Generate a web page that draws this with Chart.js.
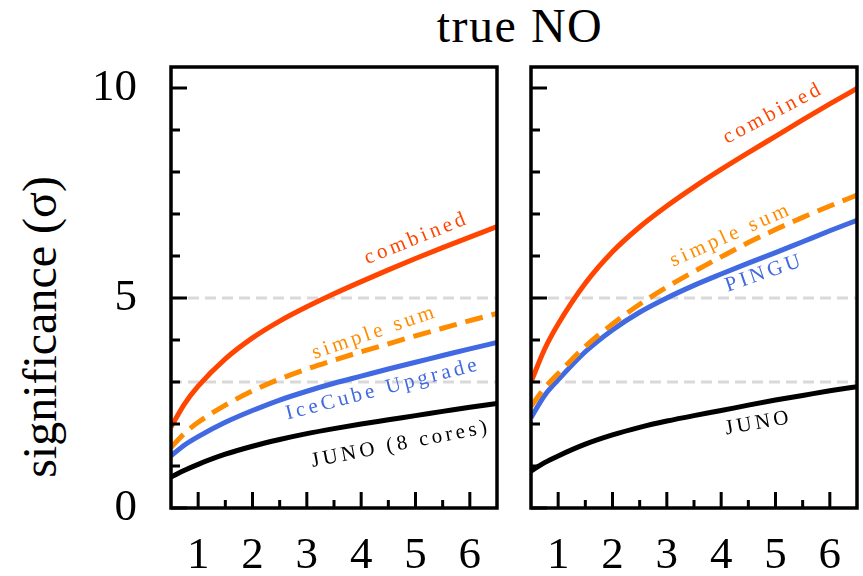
<!DOCTYPE html>
<html>
<head>
<meta charset="utf-8">
<script src="https://cdn.jsdelivr.net/npm/chart.js@4.4.1/dist/chart.umd.min.js"></script>
<style>
  html, body { margin: 0; padding: 0; background: #fff; }
  #wrap { position: relative; width: 863px; height: 576px; overflow: hidden; }
  #wrap canvas { position: absolute; left: 0; top: 0; }
  #title {
    position: absolute; left: 320px; width: 400px; top: 2px;
    text-align: center; font-family: 'Liberation Serif', serif;
    font-size: 48px; line-height: 48px; letter-spacing: 1.5px; color: #000;
  }
  #ylabel {
    position: absolute; left: 40px; top: 327px; white-space: nowrap;
    transform: translate(-50%, -50%) rotate(-90deg);
    font-family: 'Liberation Serif', serif; font-size: 48px; line-height: 48px; color: #000;
  }
</style>
</head>
<body>
<div id="wrap">
  <div id="title">true NO</div>
  <div id="ylabel">significance (σ)</div>
  <canvas id="leftPanel" width="863" height="576" style="width:863px;height:576px"></canvas>
  <canvas id="rightPanel" width="863" height="576" style="width:863px;height:576px"></canvas>
</div>
<script>
// years of data taking
const years = [0.5, 0.75, 1, 1.5, 2, 2.5, 3, 3.5, 4, 4.5, 5, 5.5, 6, 6.5];

// left panel: IceCube Upgrade + JUNO (8 cores)
const upgCombined = [1.93, 2.48, 2.9, 3.55, 4.05, 4.45, 4.79, 5.1, 5.39, 5.67, 5.94, 6.2, 6.45, 6.7];
const upgSimpleSum = [1.44, 1.78, 2.04, 2.45, 2.79, 3.07, 3.31, 3.52, 3.72, 3.91, 4.1, 4.28, 4.46, 4.63];
const upgAlone = [1.24, 1.5, 1.7, 2.04, 2.32, 2.57, 2.78, 2.97, 3.14, 3.31, 3.47, 3.63, 3.79, 3.94];
const juno8 = [0.74, 0.9, 1.04, 1.28, 1.47, 1.63, 1.77, 1.89, 2.0, 2.1, 2.2, 2.3, 2.4, 2.49];

// right panel: PINGU + JUNO
const pinguCombined = [3.0, 3.78, 4.38, 5.35, 6.1, 6.69, 7.19, 7.64, 8.06, 8.46, 8.85, 9.24, 9.62, 9.99];
const pinguSimpleSum = [2.42, 2.86, 3.2, 3.85, 4.38, 4.85, 5.26, 5.63, 5.98, 6.32, 6.63, 6.92, 7.19, 7.45];
const pinguAlone = [2.15, 2.68, 3.05, 3.72, 4.24, 4.66, 5.0, 5.3, 5.57, 5.83, 6.08, 6.34, 6.6, 6.85];
const junoPingu = [0.88, 1.08, 1.24, 1.52, 1.74, 1.92, 2.07, 2.2, 2.32, 2.45, 2.57, 2.68, 2.79, 2.89];

// axes
const xTickLabels = [1, 2, 3, 4, 5, 6];
const xMinorTicks = [1.5, 2.5, 3.5, 4.5, 5.5];
const yTickLabels = [0, 5, 10];
const yMinorTicks = [1, 2, 3, 4, 6, 7, 8, 9];
const refLevels = [3, 5];

const SERIF = "'Liberation Serif', 'DejaVu Serif', serif";
const RED = '#ff4500', ORANGE = '#ff8c00', BLUE = '#4169e1', BLACK = '#000000';

function toPoints(vals) {
  return years.map((x, i) => ({ x: x, y: vals[i] }));
}

function makeDatasets(comb, sum, alone, juno) {
  const base = { pointRadius: 0, borderWidth: 5, cubicInterpolationMode: 'monotone', fill: false };
  return [
    Object.assign({}, base, { label: 'combined', data: toPoints(comb), borderColor: RED }),
    Object.assign({}, base, { label: 'simple sum', data: toPoints(sum), borderColor: ORANGE, borderDash: [18, 9], borderCapStyle: 'butt' }),
    Object.assign({}, base, { label: 'detector', data: toPoints(alone), borderColor: BLUE }),
    Object.assign({}, base, { label: 'JUNO', data: toPoints(juno), borderColor: BLACK })
  ];
}

// frame, inward ticks, dashed reference lines and curve labels
const framePlugin = {
  id: 'frame',
  beforeDatasetsDraw(chart) {
    const { ctx, chartArea: a, scales } = chart;
    ctx.save();
    ctx.strokeStyle = '#d9d9d9';
    ctx.lineWidth = 3;
    ctx.setLineDash([11, 6]);
    refLevels.forEach(v => {
      const y = scales.y.getPixelForValue(v);
      ctx.beginPath();
      ctx.moveTo(a.left, y);
      ctx.lineTo(a.right, y);
      ctx.stroke();
    });
    ctx.restore();
  },
  afterDatasetsDraw(chart, args, opts) {
    const { ctx, chartArea: a, scales } = chart;
    ctx.save();
    ctx.strokeStyle = '#000';
    ctx.lineWidth = 3;
    ctx.setLineDash([]);
    ctx.beginPath();
    yTickLabels.forEach(v => {
      const y = scales.y.getPixelForValue(v);
      ctx.moveTo(a.left, y); ctx.lineTo(a.left + 16, y);
    });
    yMinorTicks.forEach(v => {
      const y = scales.y.getPixelForValue(v);
      ctx.moveTo(a.left, y); ctx.lineTo(a.left + 9, y);
    });
    xTickLabels.forEach(v => {
      const x = scales.x.getPixelForValue(v);
      ctx.moveTo(x, a.bottom); ctx.lineTo(x, a.bottom - 16);
    });
    xMinorTicks.forEach(v => {
      const x = scales.x.getPixelForValue(v);
      ctx.moveTo(x, a.bottom); ctx.lineTo(x, a.bottom - 8);
    });
    ctx.stroke();
    ctx.lineWidth = 3.5;
    ctx.strokeRect(a.left, a.top, a.right - a.left, a.bottom - a.top);

    // labels along the curves
    ctx.font = '21px ' + SERIF;
    ctx.letterSpacing = '3.5px';
    ctx.textAlign = 'center';
    ctx.textBaseline = 'middle';
    (opts.labels || []).forEach(l => {
      const x = scales.x.getPixelForValue(l.x);
      const y = scales.y.getPixelForValue(l.y);
      ctx.save();
      ctx.translate(x, y);
      ctx.rotate(-l.angle * Math.PI / 180);
      ctx.fillStyle = l.color;
      ctx.fillText(l.text, 0, 0);
      ctx.restore();
    });
    ctx.restore();
  }
};

function panelOptions(isLeft, labels) {
  return {
    responsive: false,
    animation: false,
    events: [],
    layout: { padding: { left: 0, right: isLeft ? 863 - 497 : 6, top: 67, bottom: 0 } },
    plugins: {
      legend: { display: false },
      tooltip: { enabled: false },
      frame: { labels: labels }
    },
    scales: {
      x: {
        type: 'linear', min: 0.5, max: 6.5,
        afterBuildTicks: s => { s.ticks = xTickLabels.map(v => ({ value: v })); },
        afterFit: s => { s.height = 68; },
        grid: { display: false, drawTicks: false },
        border: { display: false },
        ticks: { color: '#000', font: { family: SERIF, size: 45 }, padding: 21, maxRotation: 0, autoSkip: false }
      },
      y: {
        type: 'linear', min: 0, max: 10.5,
        afterBuildTicks: s => { s.ticks = yTickLabels.map(v => ({ value: v })); },
        afterFit: s => { s.width = isLeft ? 171 : 531; },
        grid: { display: false, drawTicks: false },
        border: { display: false },
        ticks: { display: isLeft, color: '#000', font: { family: SERIF, size: 45 }, padding: 34 }
      }
    }
  };
}

const leftLabels = [
  { text: 'combined', x: 5.02, y: 6.42, angle: 22, color: RED },
  { text: 'simple sum', x: 4.25, y: 4.18, angle: 19, color: ORANGE },
  { text: 'IceCube Upgrade', x: 4.4, y: 2.83, angle: 14.5, color: BLUE },
  { text: 'JUNO (8 cores)', x: 4.73, y: 1.52, angle: 11, color: BLACK }
];
const rightLabels = [
  { text: 'combined', x: 4.96, y: 9.4, angle: 28, color: RED },
  { text: 'simple sum', x: 4.18, y: 6.5, angle: 24, color: ORANGE },
  { text: 'PINGU', x: 4.8, y: 5.59, angle: 19, color: BLUE },
  { text: 'JUNO', x: 4.69, y: 2.02, angle: 10, color: BLACK }
];

new Chart(document.getElementById('leftPanel'), {
  type: 'line',
  data: { datasets: makeDatasets(upgCombined, upgSimpleSum, upgAlone, juno8) },
  options: panelOptions(true, leftLabels),
  plugins: [framePlugin]
});

new Chart(document.getElementById('rightPanel'), {
  type: 'line',
  data: { datasets: makeDatasets(pinguCombined, pinguSimpleSum, pinguAlone, junoPingu) },
  options: panelOptions(false, rightLabels),
  plugins: [framePlugin]
});
</script>
</body>
</html>
